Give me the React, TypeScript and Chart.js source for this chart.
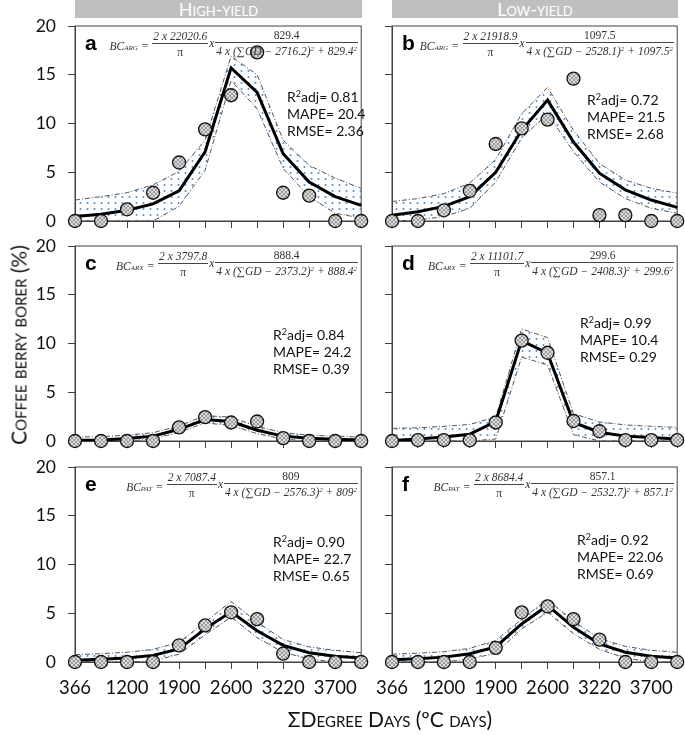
import React, { useEffect, useRef } from 'react';
import { Chart, registerables } from 'chart.js';
Chart.register(...registerables);

// ---------- data ----------
const xLabels = ['366', '', '1200', '', '1900', '', '2600', '', '3220', '', '3700', ''];
const yTicks = [0, 5, 10, 15, 20];

// a: high-yield, ARG
const obsA = [0, 0, 1.2, 2.9, 6.0, 9.4, 12.9, 17.3, 2.9, 2.6, 0, 0];
const fitA = [0.45, 0.7, 1.1, 1.75, 3.1, 7.1, 15.7, 13.2, 6.9, 4.0, 2.5, 1.6];
const upA = [2.15, 2.5, 2.9, 3.7, 5.1, 8.3, 16.9, 15.0, 8.3, 5.7, 4.4, 3.35];
const loA = [0, 0, 0, 0, 1.5, 5.2, 14.4, 11.5, 5.4, 2.5, 0.8, 0.3];

// b: low-yield, ARG
const obsB = [0, 0, 1.1, 3.1, 7.9, 9.5, 10.4, 14.6, 0.6, 0.6, 0, 0];
const fitB = [0.6, 0.95, 1.5, 2.5, 5.0, 9.3, 12.4, 8.1, 4.9, 3.2, 2.15, 1.4];
const upB = [2.0, 2.3, 2.8, 3.9, 6.3, 11.0, 13.7, 9.3, 5.9, 4.2, 3.35, 2.85];
const loB = [0, 0.1, 0.45, 1.3, 4.0, 8.5, 11.0, 7.1, 4.0, 2.3, 1.3, 0.8];

// c: high-yield, ARX
const obsC = [0, 0, 0, 0, 1.4, 2.45, 1.9, 2.0, 0.3, 0, 0, 0];
const fitC = [0.07, 0.1, 0.25, 0.5, 1.2, 2.2, 2.0, 1.1, 0.5, 0.27, 0.17, 0.1];
const upC = [0.4, 0.45, 0.6, 0.85, 1.55, 2.6, 2.45, 1.5, 0.85, 0.6, 0.5, 0.4];
const loC = [0, 0, 0, 0.2, 0.9, 1.85, 1.6, 0.75, 0.2, 0, 0, 0];

// d: low-yield, ARX
const obsD = [0, 0.1, 0.1, 0.07, 1.9, 10.3, 9.05, 2.05, 1.0, 0.1, 0.1, 0.1];
const fitD = [0.05, 0.2, 0.4, 0.7, 2.0, 10.3, 9.0, 1.9, 0.9, 0.5, 0.35, 0.2];
const upD = [1.3, 1.35, 1.5, 1.7, 2.45, 11.5, 10.6, 2.8, 1.95, 1.65, 1.5, 1.4];
const loD = [0, 0, 0, 0, 0.2, 8.6, 7.8, 0.65, 0, 0, 0, 0];

// e: high-yield, PAT
const obsE = [0, 0, 0, 0, 1.7, 3.75, 5.1, 4.4, 0.85, 0, 0, 0];
const fitE = [0.17, 0.27, 0.4, 0.68, 1.35, 3.4, 5.15, 3.2, 1.7, 0.95, 0.6, 0.4];
const upE = [0.75, 0.85, 1.0, 1.3, 2.0, 4.1, 6.2, 4.1, 2.3, 1.55, 1.2, 0.95];
const loE = [0, 0, 0, 0.1, 0.8, 2.8, 4.6, 2.5, 1.0, 0.3, 0, 0];

// f: low-yield, PAT
const obsF = [0, 0, 0, 0, 1.45, 5.1, 5.7, 4.4, 2.3, 0, 0, 0];
const fitF = [0.24, 0.34, 0.5, 0.85, 1.55, 3.9, 5.8, 3.55, 1.85, 1.0, 0.6, 0.4];
const upF = [0.8, 0.9, 1.05, 1.4, 2.2, 4.4, 6.4, 4.2, 2.4, 1.6, 1.2, 1.0];
const loF = [0, 0, 0, 0.3, 0.9, 3.4, 5.1, 2.9, 1.3, 0.4, 0, 0];

const panelLetters = ['a', 'b', 'c', 'd', 'e', 'f'];
const eqSubs = ['ARG', 'ARG', 'ARX', 'ARX', 'PAT', 'PAT'];
const eqAmp = ['22020.6', '21918.9', '3797.8', '11101.7', '7087.4', '8684.4'];
const eqCenter = ['2716.2', '2528.1', '2373.2', '2408.3', '2576.3', '2532.7'];
const eqWidth = ['829.4', '1097.5', '888.4', '299.6', '809', '857.1'];
const r2 = ['0.81', '0.72', '0.84', '0.99', '0.90', '0.92'];
const mape = ['20.4', '21.5', '24.2', '10.4', '22.7', '22.06'];
const rmse = ['2.36', '2.68', '0.39', '0.29', '0.65', '0.69'];
const colTitles = ['High-yield', 'Low-yield'];

const observed = [obsA, obsB, obsC, obsD, obsE, obsF];
const fitted = [fitA, fitB, fitC, fitD, fitE, fitF];
const upper = [upA, upB, upC, upD, upE, upF];
const lower = [loA, loB, loC, loD, loE, loF];

// ---------- layout ----------
const colLeft = [75, 392];
const colRight = [362, 678];
const rowTop = [26, 246, 467];
const plotH = 195;
const yAxisW = [75, 20];
const padTop = 12;
const padRight = 7;
const statsOffset = [
  [212, 66], [195, 69], [198, 84], [188, 72], [198, 70], [185, 68],
];

function makeDots(): CanvasPattern | string {
  const c = document.createElement('canvas');
  c.width = 7; c.height = 6;
  const g = c.getContext('2d');
  if (!g) return 'rgba(91,155,213,0.2)';
  g.fillStyle = '#4f8fd0';
  g.beginPath();
  g.arc(3.5, 3, 1.0, 0, Math.PI * 2);
  g.fill();
  return g.createPattern(c, 'repeat') as CanvasPattern;
}

function makeHatch(): CanvasPattern | string {
  const c = document.createElement('canvas');
  c.width = 4; c.height = 4;
  const g = c.getContext('2d');
  if (!g) return '#bbb';
  g.fillStyle = '#dcdcdc';
  g.fillRect(0, 0, 4, 4);
  g.strokeStyle = '#8a8a8a';
  g.lineWidth = 0.8;
  g.beginPath();
  g.moveTo(0, 0); g.lineTo(4, 4);
  g.moveTo(4, 0); g.lineTo(0, 4);
  g.stroke();
  return g.createPattern(c, 'repeat') as CanvasPattern;
}

const framePlugin = {
  id: 'frame',
  beforeDatasetsDraw(chart: any) {
    const { ctx, chartArea } = chart;
    ctx.save();
    ctx.strokeStyle = '#404040';
    ctx.lineWidth = 1;
    ctx.strokeRect(chartArea.left, chartArea.top, chartArea.right - chartArea.left, chartArea.bottom - chartArea.top);
    ctx.restore();
  },
};

function Panel({ idx }: { idx: number }) {
  const ref = useRef<HTMLCanvasElement>(null);
  const col = idx % 2;
  const row = Math.floor(idx / 2);
  const showX = row === 2;
  const showY = col === 0;
  const xH = showX ? 45 : 12;
  const canvasLeft = colLeft[col] - yAxisW[col];
  const width = colRight[col] - canvasLeft + padRight;
  const height = padTop + plotH + xH;
  const top = rowTop[row] - padTop;

  useEffect(() => {
    if (!ref.current) return;
    const dots = makeDots();
    const hatch = makeHatch();
    const band = {
      borderColor: '#555',
      borderWidth: 1,
      borderDash: [5, 2, 1, 2],
      pointRadius: 0,
      tension: 0,
    };
    const chart = new Chart(ref.current, {
      type: 'line',
      data: {
        labels: xLabels,
        datasets: [
          {
            data: observed[idx],
            showLine: false,
            pointRadius: 6.5,
            pointBackgroundColor: hatch as any,
            pointBorderColor: '#111',
            pointBorderWidth: 1.3,
            borderColor: 'transparent',
            clip: false as any,
          },
          {
            data: fitted[idx],
            borderColor: '#000',
            borderWidth: 3,
            pointRadius: 0,
            tension: 0,
          },
          { ...band, data: upper[idx], fill: false },
          { ...band, data: lower[idx], fill: '-1', backgroundColor: dots as any },
        ],
      },
      options: {
        animation: false,
        responsive: false,
        maintainAspectRatio: false,
        events: [],
        layout: { padding: { top: padTop, right: padRight, left: 0, bottom: 0 } },
        plugins: { legend: { display: false }, tooltip: { enabled: false } },
        scales: {
          x: {
            type: 'category',
            offset: false,
            grid: { display: true, drawOnChartArea: false, drawTicks: true, tickLength: 7, color: '#404040', offset: false },
            border: { display: true, color: '#404040', width: 1 },
            ticks: {
              display: showX,
              autoSkip: false,
              maxRotation: 0,
              minRotation: 0,
              padding: 8,
              color: '#111',
              font: { family: 'Lato', size: 18.5 },
            },
            afterFit: (s: any) => {
              s.height = xH;
              s.paddingLeft = 0; s.paddingRight = 0; s.paddingTop = 0; s.paddingBottom = 0;
            },
          },
          y: {
            min: 0,
            max: 20,
            afterBuildTicks: (s: any) => { s.ticks = yTicks.map((v) => ({ value: v })); },
            grid: { display: true, drawOnChartArea: false, drawTicks: true, tickLength: 7, color: '#404040' },
            border: { display: true, color: '#404040', width: 1 },
            ticks: {
              display: showY,
              padding: 12,
              color: '#111',
              font: { family: 'Lato', size: 17.5 },
            },
            afterFit: (s: any) => {
              s.width = yAxisW[col];
              s.paddingLeft = 0; s.paddingRight = 0; s.paddingTop = 0; s.paddingBottom = 0;
            },
          },
        },
      },
      plugins: [framePlugin],
    });
    return () => chart.destroy();
  }, [idx]);

  const pl = colLeft[col];
  const pt = rowTop[row];
  const pr = colRight[col];
  const [sx, sy] = statsOffset[idx];

  return (
    <>
      <canvas
        ref={ref}
        width={width}
        height={height}
        style={{ position: 'absolute', left: canvasLeft, top, width, height }}
      />
      <div
        style={{
          position: 'absolute', left: pl + 10, top: pt + 5,
          fontFamily: '"Liberation Sans", Arial, sans-serif', fontWeight: 'bold', fontSize: 21, lineHeight: '24px', color: '#000',
        }}
      >
        {panelLetters[idx]}
      </div>
      <Equation idx={idx} right={685 - (pr - 4)} top={pt + 3} />
      <div
        style={{
          position: 'absolute', left: pl + sx, top: pt + sy - 4,
          fontFamily: 'Lato, sans-serif', fontSize: 14, lineHeight: '17px', color: '#111', whiteSpace: 'nowrap',
        }}
      >
        <div>R<sup style={{ fontSize: 9, lineHeight: 0, verticalAlign: 'baseline', position: 'relative', top: -5 }}>2</sup>adj= {r2[idx]}</div>
        <div>MAPE= {mape[idx]}</div>
        <div>RMSE= {rmse[idx]}</div>
      </div>
    </>
  );
}

function Frac({ num, den }: { num: React.ReactNode; den: React.ReactNode }) {
  return (
    <span style={{ display: 'inline-flex', flexDirection: 'column', alignItems: 'center' }}>
      <span style={{ padding: '0 1px 1px', lineHeight: '12px' }}>{num}</span>
      <span style={{ borderTop: '0.8px solid #444', width: '100%', height: 0 }} />
      <span style={{ padding: '2px 1px 0', lineHeight: '13px' }}>{den}</span>
    </span>
  );
}

function Equation({ idx, right, top }: { idx: number; right: number; top: number }) {
  const sup = { fontSize: 7, position: 'relative' as const, top: -4 };
  return (
    <div
      style={{
        position: 'absolute', right, top, display: 'flex', alignItems: 'center',
        fontFamily: '"Liberation Serif", serif', fontSize: 11.5, color: '#333', whiteSpace: 'nowrap',
      }}
    >
      <span style={{ fontStyle: 'italic', position: 'relative', top: 1 }}>
        BC<span style={{ fontSize: 7, fontVariant: 'small-caps' }}>{eqSubs[idx]}</span>
      </span>
      <span style={{ margin: '0 4px', position: 'relative', top: 1 }}>=</span>
      <Frac num={<i>2 x {eqAmp[idx]}</i>} den={<span>π</span>} />
      <i style={{ margin: '0 1px', position: 'relative', top: -2 }}>x</i>
      <Frac
        num={<span>{eqWidth[idx]}</span>}
        den={
          <i>
            4 x (∑<span>GD</span> − {eqCenter[idx]})<span style={sup}>2</span> + {eqWidth[idx]}<span style={sup}>2</span>
          </i>
        }
      />
    </div>
  );
}

export default function App() {
  return (
    <div style={{ position: 'absolute', left: 0, top: 0, width: 685, height: 735, background: '#fff', overflow: 'hidden' }}>
      {colTitles.map((t, c) => (
        <div
          key={t}
          style={{
            position: 'absolute', left: colLeft[c], top: 0, width: colRight[c] - colLeft[c], height: 18,
            background: '#bfbfbf', color: '#fff', textAlign: 'center',
            fontFamily: 'Lato, sans-serif', fontVariant: 'small-caps', fontSize: 18, lineHeight: '18px',
          }}
        >
          {t}
        </div>
      ))}
      {[0, 1, 2, 3, 4, 5].map((i) => (
        <Panel key={i} idx={i} />
      ))}
      <div
        style={{
          position: 'absolute', left: 18, top: 345, transform: 'translate(-50%, -50%) rotate(-90deg)',
          fontFamily: 'Lato, sans-serif', fontVariant: 'small-caps', fontSize: 21, color: '#111', whiteSpace: 'nowrap',
        }}
      >
        Coffee berry borer (%)
      </div>
      <div
        style={{
          position: 'absolute', left: 390, top: 718, transform: 'translate(-50%, -50%)',
          fontFamily: 'Lato, sans-serif', fontVariant: 'small-caps', fontSize: 21, color: '#111', whiteSpace: 'nowrap',
        }}
      >
        ΣDegree Days (ºC days)
      </div>
    </div>
  );
}
